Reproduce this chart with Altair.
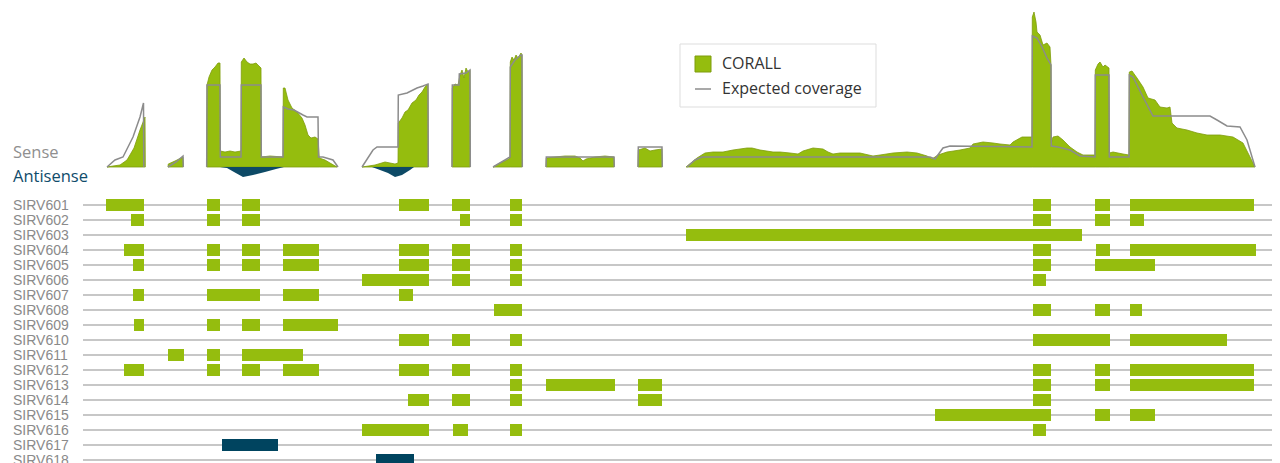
import altair as alt
import pandas as pd

GREEN = "#95bd0e"
TEAL = "#0d4a66"
GRAY = "#8c8c8c"

# ---------------- transcript annotation (positions along the locus) ----------------
genes = ["SIRV601", "SIRV602", "SIRV603", "SIRV604", "SIRV605", "SIRV606", "SIRV607", "SIRV608", "SIRV609",
         "SIRV610", "SIRV611", "SIRV612", "SIRV613", "SIRV614", "SIRV615", "SIRV616", "SIRV617", "SIRV618"]
strand = ["sense"] * 16 + ["antisense"] * 2

SIRV601 = [(106, 144), (207, 220), (242, 260), (399, 429), (452, 470), (510, 522), (1033, 1051), (1095, 1110), (1130, 1254)]
SIRV602 = [(131, 144), (207, 220), (242, 260), (460, 470), (510, 522), (1033, 1051), (1095, 1110), (1130, 1144)]
SIRV603 = [(686, 1082)]
SIRV604 = [(124, 144), (207, 220), (242, 260), (283, 319), (399, 429), (452, 470), (510, 522), (1033, 1051), (1096, 1110), (1130, 1256)]
SIRV605 = [(133, 144), (207, 220), (242, 260), (283, 319), (399, 429), (452, 470), (510, 522), (1033, 1051), (1095, 1155)]
SIRV606 = [(362, 429), (452, 470), (510, 522), (1033, 1046)]
SIRV607 = [(133, 144), (207, 260), (283, 319), (399, 413)]
SIRV608 = [(494, 522), (1033, 1051), (1095, 1110), (1130, 1142)]
SIRV609 = [(134, 144), (207, 220), (242, 260), (283, 338)]
SIRV610 = [(399, 429), (452, 470), (510, 522), (1033, 1110), (1130, 1227)]
SIRV611 = [(168, 184), (207, 220), (242, 303)]
SIRV612 = [(124, 144), (207, 220), (242, 260), (283, 319), (399, 429), (452, 470), (510, 522), (1033, 1051), (1095, 1110), (1130, 1254)]
SIRV613 = [(510, 522), (546, 615), (638, 662), (1033, 1051), (1095, 1110), (1130, 1254)]
SIRV614 = [(408, 429), (452, 470), (510, 522), (638, 662), (1033, 1051)]
SIRV615 = [(935, 1051), (1095, 1110), (1130, 1155)]
SIRV616 = [(362, 429), (453, 468), (510, 522), (1033, 1046)]
SIRV617 = [(222, 278)]
SIRV618 = [(376, 414)]
exon_lists = [SIRV601, SIRV602, SIRV603, SIRV604, SIRV605, SIRV606, SIRV607, SIRV608, SIRV609,
              SIRV610, SIRV611, SIRV612, SIRV613, SIRV614, SIRV615, SIRV616, SIRV617, SIRV618]

# ---------------- coverage (height above baseline), per locus segment ----------------
sense_x = [
    [107, 113, 120, 127, 134, 140, 145, 145.3],
    [168, 168.3, 175, 183, 183.3],
    [206.7, 207, 209, 212, 215, 218, 220, 220.3, 225, 230, 235, 241, 241.3, 244, 247, 250, 253, 256, 259, 261,
     261.3, 270, 283, 283.3, 285, 288, 292, 297, 302, 305, 308, 311, 315, 318, 319.3, 325, 330, 337],
    [362, 375, 385, 395, 398, 398.3, 402, 405, 408, 412, 416, 419, 422, 425, 428, 428.3],
    [452, 452.3, 455, 458, 460, 462, 464, 466, 468, 470, 470.3],
    [493, 500, 507, 510, 510.3, 512, 514, 516, 518, 521, 522, 522.3],
    [546, 546.3, 555, 565, 575, 580, 583, 586, 595, 605, 614, 614.3],
    [638, 638.3, 645, 650, 655, 662, 662.3],
    [686, 697, 705, 713, 723, 733, 747, 752, 760, 773, 780, 790, 798, 803, 813, 823, 828, 833, 840, 847, 860,
     873, 880, 893, 907, 917, 927, 932, 938, 947, 960, 970, 973, 983, 993, 1000, 1010, 1013, 1022, 1032,
     1032.3, 1034, 1036, 1037, 1040, 1043, 1047, 1050, 1051, 1051.3, 1053, 1058, 1063, 1070, 1077, 1083, 1095,
     1095.3, 1098, 1100, 1103, 1105, 1109, 1109.3, 1113, 1123, 1129, 1129.3, 1132, 1137, 1143, 1148, 1155, 1160,
     1167, 1170, 1172, 1177, 1187, 1197, 1207, 1220, 1233, 1243, 1250, 1255],
]
sense_h = [
    [0, 1, 2, 7, 19, 37, 50, 0],
    [0, 3, 6, 10, 0],
    [0, 82, 90, 97, 100, 104, 104, 16, 15, 16, 15, 16, 105, 109, 105, 103, 103, 104, 101, 99,
     10, 11, 10, 79, 79, 67, 59, 55, 49, 42, 32, 29, 30, 28, 9, 7, 4, 0],
    [0, 2, 5, 3, 4, 44, 49, 55, 57, 64, 67, 72, 75, 80, 83, 0],
    [0, 79, 83, 82, 92, 97, 89, 99, 95, 97, 0],
    [0, 4, 7, 9, 105, 110, 107, 112, 109, 114, 112, 0],
    [0, 9, 10, 11, 11, 9, 6, 8, 10, 11, 10, 0],
    [0, 17, 19, 16, 17, 18, 0],
    [0, 9, 14, 15, 15, 17, 19, 19, 17, 15, 15, 14, 13, 16, 19, 18, 15, 13, 14, 14, 14,
     11, 12, 14, 15, 14, 11, 8, 12, 15, 17, 19, 23, 25, 24, 23, 22, 25, 30, 30,
     150, 155, 145, 135, 132, 122, 124, 120, 102, 24, 30, 31, 27, 20, 15, 12, 12,
     97, 103, 105, 100, 102, 99, 14, 15, 13, 12, 95, 96, 89, 80, 69, 67, 60,
     59, 60, 44, 39, 37, 34, 32, 32, 30, 24, 10, 0],
]

expected_x = [
    [107, 115, 123, 133, 140, 143.5, 143.8],
    [168, 176, 183, 183.3],
    [206.7, 207, 220, 220.3, 241, 241.3, 261, 261.3, 283, 283.3, 288, 294, 303, 307, 318, 318.5, 323, 333, 338],
    [362, 373, 377, 398, 398.3, 407, 417, 423, 428, 428.3],
    [452, 452.3, 459, 459.3, 466, 470, 470.3],
    [493, 505, 510, 510.3, 515, 521, 522, 522.3],
    [546, 546.3, 614, 614.3],
    [638, 638.3, 662, 662.3],
    [687, 695, 702, 930, 935, 943, 950, 1032, 1032.3, 1037, 1042, 1047, 1051, 1051.3, 1058, 1070, 1080, 1095,
     1095.3, 1109, 1109.3, 1129, 1129.3, 1133, 1143, 1153, 1210, 1217, 1227, 1240, 1247, 1255],
]
expected_h = [
    [0, 7, 10, 30, 50, 64, 0],
    [0, 5, 11, 0],
    [0, 82, 82, 10, 10, 82, 82, 10, 10, 60, 58, 57, 52, 50, 50, 10, 10, 7, 0],
    [0, 17, 20, 20, 72, 74, 79, 81, 83, 0],
    [0, 82, 82, 93, 94, 97, 0],
    [0, 7, 10, 100, 107, 112, 112, 0],
    [0, 10, 10, 0],
    [0, 20, 20, 0],
    [0, 7, 10, 10, 8, 19, 21, 20, 131, 129, 120, 109, 102, 21, 20, 17, 11, 10,
     92, 92, 10, 10, 92, 90, 70, 51, 51, 47, 41, 40, 27, 0],
]

antisense_x = [
    [220, 227, 234, 243, 253, 265, 276, 284],
    [372, 380, 388, 395, 402, 410, 414],
]
antisense_h = [
    [0, -1, -5, -10, -8, -5, -2, 0],
    [0, -3, -6, -10, -8, -3, 0],
]

# ---------------- tables ----------------
gene_df = pd.DataFrame({"gene": genes, "row": list(range(len(genes)))})
ex_rows = []
for i, (g, s, lst) in enumerate(zip(genes, strand, exon_lists)):
    for a, b in lst:
        ex_rows.append({"gene": g, "row": i, "start": a, "end": b, "strand": s})
exon_df = pd.DataFrame(ex_rows)


def long(xs, hs, name):
    rows = []
    for k, (xx, hh) in enumerate(zip(xs, hs)):
        for a, b in zip(xx, hh):
            rows.append({"x": a, "h": b, "seg": f"{name}{k}"})
    return pd.DataFrame(rows)


sense_df = long(sense_x, sense_h, "s")
exp_df = long(expected_x, expected_h, "e")
anti_df = long(antisense_x, antisense_h, "a")

# ---------------- scales ----------------
xs = alt.Scale(domain=[8, 1272], nice=False, zero=False)
gene_y = alt.Scale(domain=[-13.1333, 17.2], reverse=True, nice=False, zero=False)
cov_y = alt.Scale(domain=[-296, 159], nice=False, zero=False)

rows_rule = alt.Chart(gene_df).mark_rule(color="#b5b5b5", strokeWidth=1.5).encode(
    x=alt.value(75), x2=alt.value(1264),
    y=alt.Y("row:Q", scale=gene_y, axis=None),
)
exons = alt.Chart(exon_df).transform_calculate(
    y0="datum.row - 0.4", y1="datum.row + 0.4"
).mark_rect().encode(
    x=alt.X("start:Q", scale=xs, axis=None),
    x2="end:Q",
    y=alt.Y("y0:Q", scale=gene_y, axis=None),
    y2="y1:Q",
    color=alt.Color("strand:N", scale=alt.Scale(domain=["sense", "antisense"], range=[GREEN, "#00445f"]), legend=None),
)
labels = alt.Chart(gene_df).mark_text(
    align="left", baseline="middle", font="Liberation Sans", fontSize=14, color="#8a8a8a", dy=1
).encode(
    x=alt.value(5),
    y=alt.Y("row:Q", scale=gene_y, axis=None),
    text="gene:N",
)
gene_layer = alt.layer(rows_rule, exons, labels)

sense_area = alt.Chart(sense_df).mark_area(
    color=GREEN, stroke="#7f9c0c", strokeWidth=0.8, opacity=1
).encode(
    x=alt.X("x:Q", scale=xs, axis=None),
    y=alt.Y("h:Q", scale=cov_y, axis=None, stack=None),
    detail="seg:N",
)
anti_area = alt.Chart(anti_df).mark_area(color=TEAL, opacity=1).encode(
    x=alt.X("x:Q", scale=xs, axis=None),
    y=alt.Y("h:Q", scale=cov_y, axis=None, stack=None),
    detail="seg:N",
)
exp_line = alt.Chart(exp_df).mark_line(color=GRAY, strokeWidth=1.5).encode(
    x=alt.X("x:Q", scale=xs, axis=None),
    y=alt.Y("h:Q", scale=cov_y, axis=None),
    detail="seg:N",
)
cov_layer = alt.layer(sense_area, anti_area, exp_line)

one = alt.Data(values=[{}])
txt_sense = alt.Chart(one).mark_text(
    text="Sense", align="left", baseline="middle", font="Open Sans", fontSize=16.5, color="#8f8f8f"
).encode(x=alt.value(5), y=alt.value(145))
txt_anti = alt.Chart(one).mark_text(
    text="Antisense", align="left", baseline="middle", font="Open Sans", fontSize=16.5, color="#0f4c6b"
).encode(x=alt.value(5), y=alt.value(169))

leg_box = alt.Chart(one).mark_rect(fill="white", stroke="#dddddd", strokeWidth=1).encode(
    x=alt.value(672), x2=alt.value(868), y=alt.value(36), y2=alt.value(99))
leg_sq = alt.Chart(one).mark_rect(fill=GREEN, stroke="#7f9c0c", strokeWidth=1).encode(
    x=alt.value(687), x2=alt.value(703), y=alt.value(48), y2=alt.value(64))
leg_line = alt.Chart(one).mark_rule(color=GRAY, strokeWidth=1.5).encode(
    x=alt.value(687), x2=alt.value(703), y=alt.value(81))
leg_t1 = alt.Chart(one).mark_text(
    text="CORALL", align="left", baseline="middle", font="Open Sans", fontSize=16, color="#333333"
).encode(x=alt.value(714), y=alt.value(56))
leg_t2 = alt.Chart(one).mark_text(
    text="Expected coverage", align="left", baseline="middle", font="Open Sans", fontSize=16, color="#333333"
).encode(x=alt.value(714), y=alt.value(81))

chart = alt.layer(
    gene_layer, cov_layer, txt_sense, txt_anti, leg_box, leg_sq, leg_line, leg_t1, leg_t2
).resolve_scale(y="independent").properties(
    width=1264, height=455, autosize=alt.AutoSizeParams(type="none"), padding=0
).configure_view(strokeWidth=0)

chart.save("out.html", embed_options={"renderer": "svg", "actions": False})
